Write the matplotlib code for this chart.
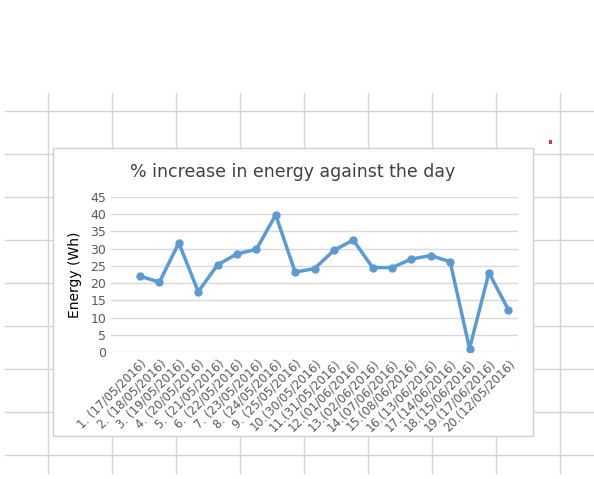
import matplotlib
matplotlib.use("Agg")
import matplotlib.pyplot as plt
from matplotlib.lines import Line2D
from matplotlib.patches import Rectangle

labels = ["1. (17/05/2016)", "2. (18/05/2016)", "3. (19/05/2016)", "4. (20/05/2016)",
          "5. (21/05/2016)", "6. (22/05/2016)", "7. (23/05/2016)", "8. (24/05/2016)",
          "9. (25/05/2016)", "10.(30/05/2016)", "11.(31/05/2016)", "12.(01/06/2016)",
          "13.(02/06/2016)", "14.(07/06/2016)", "15.(08/06/2016)", "16.(13/06/2016)",
          "17.(14/06/2016)", "18.(15/06/2016)", "19.(17/06/2016)", "20.(12/05/2016)"]
values = [22, 20.3, 31.7, 17.5, 25.3, 28.5, 29.8, 39.8, 23.2, 24.2,
          29.5, 32.5, 24.5, 24.5, 27, 28, 26.2, 1, 23, 12.3]

W, H = 594, 479
fig = plt.figure(figsize=(W/100, H/100), dpi=100)
fig.patch.set_facecolor("white")

def fx(x): return x / W
def fy(y): return 1 - y / H

gc = "#d4d4d4"
for x in range(48, 594, 64):
    fig.add_artist(Line2D([fx(x), fx(x)], [fy(93), fy(473)], color=gc, lw=1, zorder=0))
for y in range(111, 470, 43):
    fig.add_artist(Line2D([fx(5), fx(594)], [fy(y), fy(y)], color=gc, lw=1, zorder=0))

fig.add_artist(Rectangle((fx(53), fy(436)), fx(533) - fx(53), fy(148) - fy(436),
                         facecolor="white", edgecolor="#d0d0d0", lw=1, zorder=1))
fig.add_artist(Rectangle((fx(549), fy(144)), fx(3), fy(140)-fy(144), facecolor="#e0303a", edgecolor="none"))

ax = fig.add_axes([fx(111), fy(352), fx(518) - fx(111), fy(197) - fy(352)])
ax.set_zorder(5)
ax.patch.set_alpha(0)
xs = list(range(len(values)))
ax.plot(xs, values, color="#5b9bd5", lw=2.5, marker="o", ms=5)
ax.set_xlim(-1.5, 19.5)
ax.set_ylim(0, 45)
ax.set_yticks(range(0, 46, 5))
ax.yaxis.grid(True, color="#d9d9d9", lw=1)
ax.set_axisbelow(True)
for s in ax.spines.values():
    s.set_visible(False)
ax.tick_params(length=0, colors="#595959", labelsize=9)
ax.set_xticks(xs)
ax.set_xticklabels(labels, rotation=45, ha="right", rotation_mode="anchor", fontsize=8.5)
ax.set_ylabel("Energy (Wh)", fontsize=10, color="black", labelpad=6)
fig.text(fx(293), fy(172), "% increase in energy against the day", ha="center", va="center",
         fontsize=12.5, color="#404040", zorder=6)
fig.savefig("out.png", dpi=100)
